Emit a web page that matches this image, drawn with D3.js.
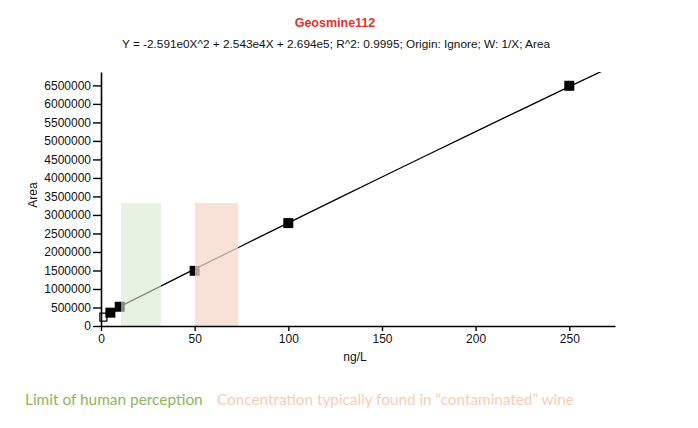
<!DOCTYPE html>
<html lang='en'>
<head>
<meta charset='utf-8'>
<title>Geosmine112</title>
<script src='https://cdn.jsdelivr.net/npm/d3@7'></script>
<style>
  body { margin: 0; background: #fff; }
  text { font-family: 'Liberation Sans', Arial, sans-serif; }
</style>
</head>
<body>
<script>
// calibration points (ng/L, area)
var conc = [5, 10, 50, 100, 250];
var area = [360000, 520000, 1490000, 2780000, 6490000];
// excluded point (hollow)
var exclConc = [1];
var exclArea = [240000];
// fit coefficients from the subtitle
var coefA = -2.591, coefB = 2.543e4, coefC = 2.694e5;
var fitX = [0, 25, 50, 75, 100, 125, 150, 175, 200, 225, 250, 275];
var yTicks = [0, 500000, 1000000, 1500000, 2000000, 2500000, 3000000, 3500000,
              4000000, 4500000, 5000000, 5500000, 6000000, 6500000];
var xTicks = [0, 50, 100, 150, 200, 250];
// shaded bands: [from, to] in ng/L, top in area units
var bandGreen = [10.7, 32];
var bandOrange = [50.2, 73.3];
var bandTop = 3320000;

var width = 698, height = 428;
var padL = 101, padR = 615, padT = 72, padB = 326;

var svg = d3.select('body').append('svg').attr('width', width).attr('height', height);

var x = d3.scaleLinear().domain([0, 274.4]).range([padL, padR]);
var y = d3.scaleLinear().domain([0, 6862000]).range([padB, padT]);

svg.append('defs').append('clipPath').attr('id', 'plotclip')
  .append('rect').attr('x', padL).attr('y', padT).attr('width', padR - padL).attr('height', padB - padT);

svg.append('text').attr('x', 335).attr('y', 27).attr('text-anchor', 'middle')
  .attr('font-size', '12.5px').attr('font-weight', 'bold').attr('fill', '#e0322c')
  .text('Geosmine112');
svg.append('text').attr('x', 336).attr('y', 48).attr('text-anchor', 'middle')
  .attr('font-size', '11.8px').attr('fill', '#111')
  .text('Y = -2.591e0X^2 + 2.543e4X + 2.694e5; R^2: 0.9995; Origin: Ignore; W: 1/X; Area');

// fit curve
var fit = fitX.map(function(v) { return [v, coefA * v * v + coefB * v + coefC]; });
svg.append('path').datum(fit)
  .attr('clip-path', 'url(#plotclip)')
  .attr('fill', 'none').attr('stroke', '#000').attr('stroke-width', 1.3)
  .attr('d', d3.line().x(function(d) { return x(d[0]); }).y(function(d) { return y(d[1]); }));

var sq = 10;
svg.selectAll('.excl').data(exclConc).enter().append('rect')
  .attr('x', function(d) { return x(d) - 3; })
  .attr('y', function(d, i) { return y(exclArea[i]) - 4; })
  .attr('width', 7).attr('height', 8)
  .attr('fill', '#fff').attr('stroke', '#000').attr('stroke-width', 1.2);

svg.selectAll('.pt').data(conc).enter().append('rect')
  .attr('x', function(d) { return x(d) - sq / 2; })
  .attr('y', function(d, i) { return y(area[i]) - sq / 2; })
  .attr('width', sq).attr('height', sq).attr('fill', '#000');

// translucent bands over the data
svg.append('rect').attr('x', x(bandGreen[0])).attr('y', y(bandTop))
  .attr('width', x(bandGreen[1]) - x(bandGreen[0])).attr('height', y(0) - y(bandTop))
  .attr('fill', '#d9e9cf').attr('opacity', 0.6);
svg.append('rect').attr('x', x(bandOrange[0])).attr('y', y(bandTop))
  .attr('width', x(bandOrange[1]) - x(bandOrange[0])).attr('height', y(0) - y(bandTop))
  .attr('fill', '#f6d8cb').attr('opacity', 0.75);

var gx = svg.append('g').attr('transform', 'translate(0,' + padB + ')')
  .call(d3.axisBottom(x).tickValues(xTicks).tickSize(5).tickPadding(3).tickSizeOuter(0));
var gy = svg.append('g').attr('transform', 'translate(' + padL + ',0)')
  .call(d3.axisLeft(y).tickValues(yTicks).tickSize(8).tickPadding(2).tickSizeOuter(0)
    .tickFormat(d3.format('d')));
[gx, gy].forEach(function(g) {
  g.select('.domain').attr('stroke', '#000').attr('stroke-width', 1.6);
  g.selectAll('.tick line').attr('stroke', '#000').attr('stroke-width', 1.4);
  g.selectAll('.tick text').attr('fill', '#111').style('font-size', '12px');
});

svg.append('text').attr('x', 355).attr('y', 361).attr('text-anchor', 'middle')
  .attr('font-size', '12px').attr('fill', '#111').text('ng/L');
svg.append('text').attr('transform', 'translate(37,195)rotate(-90)').attr('text-anchor', 'middle')
  .attr('font-size', '12px').attr('fill', '#111').text('Area');

svg.append('text').attr('x', 25).attr('y', 405).style('font-family', 'Lato, sans-serif')
  .attr('font-size', '15.4px').attr('fill', '#8db65c').text('Limit of human perception');
svg.append('text').attr('x', 217).attr('y', 405).style('font-family', 'Lato, sans-serif')
  .attr('font-size', '15.3px').attr('fill', '#f7cdb6')
  .text('Concentration typically found in \u201ccontaminated\u201d wine');
</script>
</body>
</html>
